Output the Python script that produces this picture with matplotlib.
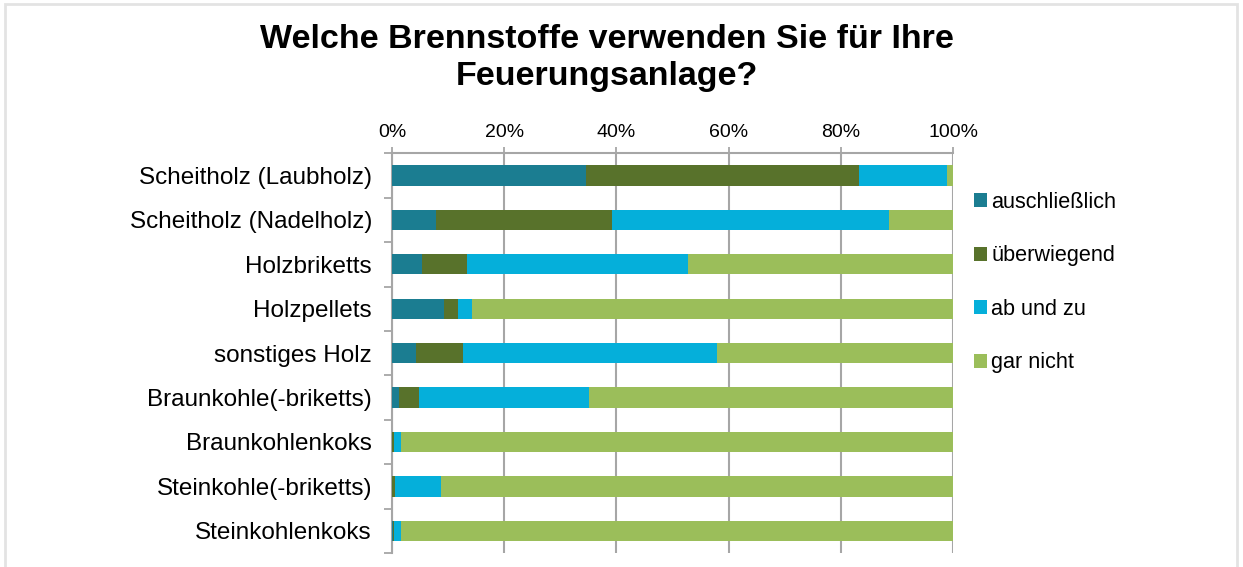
import matplotlib
matplotlib.use("Agg")
import matplotlib.pyplot as plt
from matplotlib.patches import Rectangle
import numpy as np

plt.rcParams['font.family'] = ['Liberation Sans', 'DejaVu Sans']

categories = [
    "Scheitholz (Laubholz)",
    "Scheitholz (Nadelholz)",
    "Holzbriketts",
    "Holzpellets",
    "sonstiges Holz",
    "Braunkohle(-briketts)",
    "Braunkohlenkoks",
    "Steinkohle(-briketts)",
    "Steinkohlenkoks",
]
series_names = ["auschließlich", "überwiegend", "ab und zu", "gar nicht"]
auschliesslich = [34.5, 7.9, 5.4, 9.3, 4.3, 1.25, 0.0, 0.0, 0.1]
ueberwiegend = [48.8, 31.3, 7.9, 2.4, 8.3, 3.5, 0.35, 0.6, 0.3]
ab_und_zu = [15.7, 49.4, 39.5, 2.5, 45.4, 30.4, 1.2, 8.2, 1.2]
gar_nicht = [1.0, 11.4, 47.2, 85.8, 42.0, 64.85, 98.45, 91.2, 98.4]
colors = ["#1B7D91", "#58722B", "#05AFDA", "#9BBE5A"]
x_ticklabels = ["0%", "20%", "40%", "60%", "80%", "100%"]

W, H = 1243, 567
fig = plt.figure(figsize=(W / 100, H / 100), dpi=100)

# outer frame of the chart (runs past the bottom edge)
fig.patches.append(Rectangle((5 / W, -0.2), 1232 / W, 1.2 - 4 / H, transform=fig.transFigure,
                             facecolor="none", edgecolor="#e3e3e3", linewidth=2, zorder=0))

ax = fig.add_axes([392 / W, 1 - 553 / H, 561 / W, 399.7 / H])

y = np.arange(len(categories))
left = np.zeros(len(categories))
for name, vals, col in zip(series_names, [auschliesslich, ueberwiegend, ab_und_zu, gar_nicht], colors):
    vals = np.array(vals)
    ax.barh(y, vals, left=left, height=0.457, color=col, label=name, zorder=3)
    left += vals

ax.set_xlim(0, 100)
ax.set_ylim(len(categories) - 0.5, -0.5)

ax.xaxis.tick_top()
ax.set_xticks(np.arange(0, 101, 20))
ax.set_xticklabels(x_ticklabels, fontsize=14)
ax.tick_params(axis="x", which="major", length=4, width=1.3, color="#a6a6a6", pad=5)
ax.grid(axis="x", color="#a6a6a6", linewidth=1.5, zorder=0)

ax.set_yticks(y)
ax.set_yticklabels(categories, fontsize=17.5)
ax.set_yticks(np.arange(-0.5, len(categories), 1), minor=True)
ax.tick_params(axis="y", which="major", length=0, pad=14.4)
ax.tick_params(axis="y", which="minor", length=6, width=1.3, color="#a6a6a6")

for s in ["bottom", "right"]:
    ax.spines[s].set_visible(False)
for s in ["top", "left"]:
    ax.spines[s].set_color("#a6a6a6")
    ax.spines[s].set_linewidth(1.5)

fig.text(607 / W, 1 - 39 / H, "Welche Brennstoffe verwenden Sie für Ihre", ha="center", va="center",
         fontsize=24.5, fontweight="bold")
fig.text(607 / W, 1 - 76 / H, "Feuerungsanlage?", ha="center", va="center",
         fontsize=24.5, fontweight="bold")

leg = fig.legend(loc="upper left", bbox_to_anchor=(965 / W, 1 - 183 / H), frameon=False,
                 fontsize=15.6, handlelength=0.62, handleheight=0.62, handletextpad=0.2,
                 labelspacing=1.5, borderaxespad=0)

fig.savefig("out.png", dpi=100)
